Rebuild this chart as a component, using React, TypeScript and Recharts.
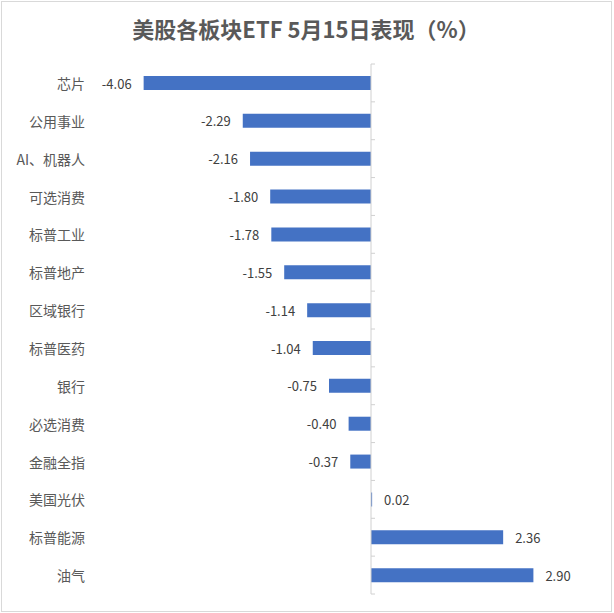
import React from 'react';
import { BarChart, Bar, XAxis, YAxis, ReferenceLine, LabelList } from 'recharts';

const title = '美股各板块ETF 5月15日表现（%）';
const categories = ['芯片', '公用事业', 'AI、机器人', '可选消费', '标普工业', '标普地产', '区域银行', '标普医药', '银行', '必选消费', '金融全指', '美国光伏', '标普能源', '油气'];
const values = [-4.06, -2.29, -2.16, -1.8, -1.78, -1.55, -1.14, -1.04, -0.75, -0.4, -0.37, 0.02, 2.36, 2.9];
const xDomain: [number, number] = [-5, 3];

const data = categories.map((name, i) => ({ name, value: values[i] }));

const FONT = '"Noto Sans CJK SC", "Noto Sans", sans-serif';

const W = 614;
const H = 613;
const M = { top: 64, right: 75, bottom: 19, left: 0 };
const Y_WIDTH = 91;
const plotLeft = M.left + Y_WIDTH;
const plotWidth = W - M.right - plotLeft;
const plotHeight = H - M.top - M.bottom;
const band = plotHeight / categories.length;
const zeroX = plotLeft + ((0 - xDomain[0]) / (xDomain[1] - xDomain[0])) * plotWidth;

const CategoryTick = (props: any) => {
  const { y, payload, index } = props;
  const isLast = index === categories.length - 1;
  return (
    <g>
      <text x={85} y={y} textAnchor="end" dominantBaseline="central" fill="#595959" fontSize={14} fontFamily={FONT}>
        {payload.value}
      </text>
      <line x1={zeroX} x2={zeroX + 4} y1={y - band / 2} y2={y - band / 2} stroke="#d0d0d0" />
      {isLast && <line x1={zeroX} x2={zeroX + 4} y1={y + band / 2} y2={y + band / 2} stroke="#d0d0d0" />}
    </g>
  );
};

const ValueLabel = (props: any) => {
  const { x, y, width, height, value } = props;
  const x0 = Number(x);
  const w = Number(width);
  const left = Math.min(x0, x0 + w);
  const right = Math.max(x0, x0 + w);
  const v = Number(value);
  const neg = v < 0;
  return (
    <text
      x={neg ? left - 12 : right + 12}
      y={Number(y) + Number(height) / 2}
      textAnchor={neg ? 'end' : 'start'}
      dominantBaseline="central"
      fill="#404040"
      fontSize={13}
      fontFamily={FONT}
    >
      {v.toFixed(2)}
    </text>
  );
};

export default function App() {
  return (
    <div style={{ position: 'absolute', left: 0, top: 0, width: W, height: H, background: '#fff', fontFamily: FONT }}>
      <div style={{ position: 'absolute', left: 1, top: 1, width: 609, height: 609, border: '1px solid #d9d9d9' }} />
      <div style={{ position: 'absolute', left: 0, top: 13, width: 612, textAlign: 'center', fontSize: 22, fontWeight: 700, color: '#595959', lineHeight: '30px' }}>
        {title}
      </div>
      <div style={{ position: 'absolute', left: 0, top: 0 }}>
        <BarChart width={W} height={H} data={data} layout="vertical" margin={M}>
          <XAxis type="number" domain={xDomain} hide />
          <YAxis type="category" dataKey="name" width={Y_WIDTH} axisLine={false} tickLine={false} tick={<CategoryTick />} interval={0} />
          <ReferenceLine x={0} stroke="#d0d0d0" strokeWidth={1} />
          <Bar dataKey="value" fill="#4472C4" barSize={14} isAnimationActive={false}>
            <LabelList dataKey="value" content={<ValueLabel />} />
          </Bar>
        </BarChart>
      </div>
    </div>
  );
}
